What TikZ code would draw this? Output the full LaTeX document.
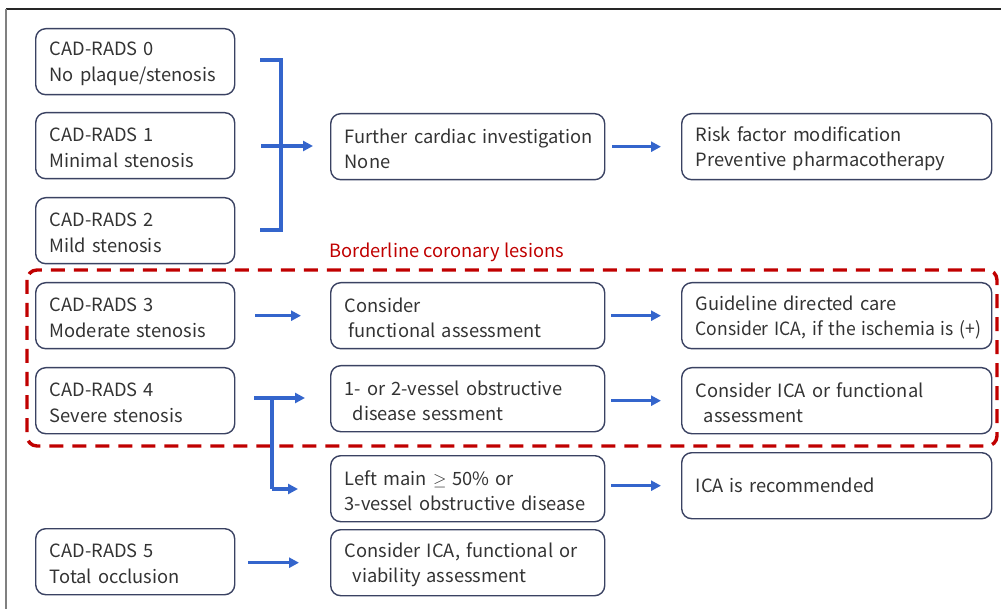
\documentclass[tikz,border=0pt]{standalone}
\usepackage{fontspec}
\setmainfont{Noto Sans CJK KR}
\usetikzlibrary{arrows.meta,calc}
\definecolor{boxc}{HTML}{3A4262}
\definecolor{txtc}{HTML}{333333}
\definecolor{arrc}{HTML}{3465CC}
\definecolor{redc}{HTML}{C00000}
\tikzset{
  box/.style={draw=boxc, line width=1.4pt, rounded corners=10pt, anchor=north west,
    align=left, inner xsep=14pt, inner ysep=0pt, text=txtc,
    font=\fontsize{18.3}{25.5}\selectfont, execute at end node={\par\vspace{-4pt}}},
  lbox/.style={box, minimum width=199pt, text width=171pt, minimum height=66pt},
  mbox/.style={box, minimum width=274pt, text width=246pt, minimum height=66pt},
  rbox/.style={box, minimum width=310pt, text width=282pt, minimum height=66pt},
  arr/.style={draw=arrc, line width=3.3pt, -{Triangle[length=10pt,width=10pt]}},
  bline/.style={draw=arrc, line width=3.3pt},
}
\begin{document}
\begin{tikzpicture}[x=1pt,y=-1pt]
\useasboundingbox (0,0) rectangle (1001,609);
% frame
\draw[line width=1.8pt, draw=black!85] (6,9) -- (1001,9);
\draw[line width=1.3pt, draw=black!50] (6,9) -- (6,609);
% left column
\node[lbox] (c0) at (35,28) {CAD-RADS 0\\No plaque/stenosis};
\node[lbox] (c1) at (35,112) {CAD-RADS 1\\Minimal stenosis};
\node[lbox] (c2) at (35,197) {CAD-RADS 2\\Mild stenosis};
\node[lbox] (c3) at (35,282) {CAD-RADS 3\\Moderate stenosis};
\node[lbox] (c4) at (35,367) {CAD-RADS 4\\Severe stenosis};
\node[lbox] (c5) at (35,528) {CAD-RADS 5\\Total occlusion};
% middle column
\node[mbox] (m1) at (330,113) {\mbox{Further cardiac investigation}\\None};
\node[mbox] (m3) at (330,282) {Consider\\\hspace*{4pt}functional assessment};
\node[mbox] (m4) at (330,365) {1- or 2-vessel obstructive\\\hspace*{8pt}disease sessment};
\node[mbox] (m4b) at (330,455) {Left main $\geq$ 50\% or\\\mbox{3-vessel obstructive disease}};
\node[mbox] (m5) at (330,529) {Consider ICA, functional or\\\hspace*{8pt}viability assessment};
% right column
\node[rbox] (r1) at (681,113) {Risk factor modification\\Preventive pharmacotherapy};
\node[rbox] (r3) at (681,282) {Guideline directed care\\\scalebox{0.96}[1]{Consider ICA, if the ischemia is (+)}};
\node[rbox] (r4) at (681,367) {Consider ICA or functional\\\hspace*{8pt}assessment};
\node[rbox] (r4b) at (681,452) {ICA is recommended};
% borderline region
\draw[draw=redc, line width=3.4pt, dash pattern=on 14pt off 9pt, rounded corners=10pt]
  (27,270) rectangle (997,446);
\node[anchor=west, text=redc, inner sep=0pt, font=\fontsize{18.3}{22}\selectfont] (bl) at (329,252) {Borderline coronary lesions};
% bracket for 0-2
\coordinate (bt) at (260,60);
\coordinate (bb) at (260,230);
\coordinate (bm) at (261,146);
\draw[bline] (bt) -- (281,60) -- (281,230) -- (bb);
\draw[arr, shorten >=17pt] (bm) -- (bm -| m1.west);
\draw[arr, shorten <=7pt, shorten >=20pt] (m1.east |- r1.west) -- (r1.west);
% CAD-RADS 3
\draw[arr, shorten <=20pt, shorten >=29pt] (c3.east |- m3.west) -- (m3.west);
\draw[arr, shorten <=6pt, shorten >=20pt] (m3.east |- r3.west) -- (r3.west);
% CAD-RADS 4
\coordinate (s4) at (254,398);
\coordinate (j4) at (272,398);
\coordinate (k4) at (272,489);
\draw[arr, shorten >=25pt] (s4) -- (s4 -| m4.west);
\draw[bline] (j4) -- (k4);
\draw[arr, shorten >=32pt] (k4) -- (k4 -| m4b.west);
\draw[arr, shorten <=6pt, shorten >=20pt] (m4.east |- r4.west) -- (r4.west);
\draw[arr, shorten <=6pt, shorten >=20pt] (m4b.east |- r4b.west) -- (r4b.west);
% CAD-RADS 5
\draw[arr, shorten <=13pt, shorten >=31pt] (c5.east |- m5.west) -- (m5.west);
\end{tikzpicture}
\end{document}
